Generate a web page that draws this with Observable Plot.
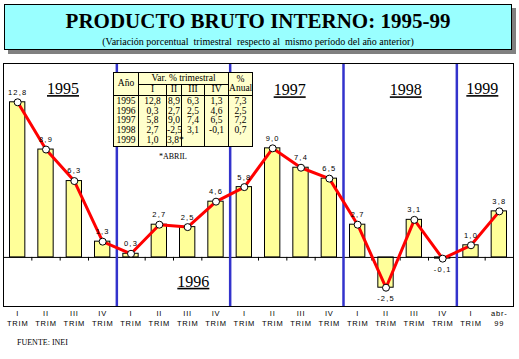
<!DOCTYPE html>
<html><head><meta charset="utf-8">
<script src="https://cdn.jsdelivr.net/npm/d3@7"></script>
<script src="https://cdn.jsdelivr.net/npm/@observablehq/plot@0.6"></script>
<style>
body{margin:0;background:#fff;}
#wrap{position:relative;width:519px;height:359px;overflow:hidden;font-family:"Liberation Serif","Times New Roman",serif;color:#000;}
#title{position:absolute;left:4px;top:4px;width:506px;height:44px;background:#99ffff;border:1px solid #000;box-shadow:4px 4px 0 #808080;text-align:center;}
#title .t{position:absolute;left:0;top:6px;width:100%;font-size:21px;line-height:21px;font-weight:bold;font-family:"Liberation Serif",serif;}
#title .s{position:absolute;left:0;top:31px;width:100%;font-size:10px;line-height:12px;white-space:pre;font-family:"Liberation Serif",serif;}
#chart{position:absolute;left:0;top:58px;}
#tbl{position:absolute;left:113px;top:72px;border-collapse:collapse;background:#ffffcc;font-size:9.5px;line-height:9.5px;table-layout:fixed;width:139px;}
#tbl th,#tbl td{border-left:1px solid #000;border-right:1px solid #000;padding:0;text-align:center;font-weight:normal;}
#tbl thead th{border:1px solid #000;}
#tbl thead tr:first-child th{height:11px;}
#tbl thead tr:nth-child(2) th{height:10px;}
#tbl tbody td{height:9.7px;}
#tbl tbody tr:first-child td{padding-top:1px;}
#tbl tbody tr:last-child td{border-bottom:1px solid #000;padding-bottom:1px;}
#abril{position:absolute;left:150px;top:152px;width:46px;text-align:center;font-size:8px;}
#fuente{position:absolute;left:17px;top:338px;font-size:8px;}
</style></head>
<body>
<div id="wrap">
  <div id="title"><div class="t">PRODUCTO BRUTO INTERNO: 1995-99</div><div class="s">(Variación porcentual  trimestral  respecto al  mismo período del año anterior)</div></div>
  <div id="chart"></div>
  <table id="tbl">
    <colgroup><col style="width:25px"><col style="width:28px"><col style="width:15px"><col style="width:23px"><col style="width:24px"><col style="width:24px"></colgroup>
    <thead>
      <tr><th rowspan="2">Año</th><th colspan="4">Var. % trimestral</th><th rowspan="2">%<br>Anual</th></tr>
      <tr><th>I</th><th>II</th><th>III</th><th>IV</th></tr>
    </thead>
    <tbody id="tbody"></tbody>
  </table>
  <div id="abril">*ABRIL</div>
  <div id="fuente">FUENTE: INEI</div>
</div>
<script>
// ---- data ----
const years = ["1995", "1996", "1997", "1998", "1999"];
const quarterNames = ["I", "II", "III", "IV"];
const v1995 = [12.8, 8.9, 6.3, 1.3];
const v1996 = [0.3, 2.7, 2.5, 4.6];
const v1997 = [5.8, 9.0, 7.4, 6.5];
const v1998 = [2.7, -2.5, 3.1, -0.1];
const v1999 = [1.0, 3.8];
const annual = [7.3, 2.5, 7.2, 0.7];
const xTickLabels = ["I\nTRIM","II\nTRIM","III\nTRIM","IV\nTRIM",
                     "I\nTRIM","II\nTRIM","III\nTRIM","IV\nTRIM",
                     "I\nTRIM","II\nTRIM","III\nTRIM","IV\nTRIM",
                     "I\nTRIM","II\nTRIM","III\nTRIM","IV\nTRIM",
                     "I\nTRIM","abr-\n99"];
const yearLabelX = [1.6, 6.2, 9.6, 13.7, 16.4];
const yearLabelY = [13.9, -2.0, 13.8, 13.8, 13.9];

// ---- build ----
const series = [v1995, v1996, v1997, v1998, v1999];
const rows = [];
series.forEach((arr, yi) => arr.forEach((v, qi) => rows.push({i: rows.length, year: years[yi], q: quarterNames[qi], v})));
const boundaries = [];
let acc = 0;
series.slice(0, -1).forEach(arr => { acc += arr.length; boundaries.push(acc - 0.5); });
const tickPos = d3.range(rows.length - 1).map(i => i + 0.5);
const fmt = v => v.toFixed(1).replace(".", ",");
const yearLabels = years.map((y, k) => ({year: y, x: yearLabelX[k], y: yearLabelY[k]}));

// table
const tbody = document.getElementById("tbody");
years.forEach((y, k) => {
  const tr = document.createElement("tr");
  const cells = [y];
  for (let q = 0; q < 4; q++) {
    const v = series[k][q];
    cells.push(v === undefined ? "" : fmt(v) + (k === years.length - 1 && q === series[k].length - 1 ? "*" : ""));
  }
  cells.push(annual[k] === undefined ? "" : fmt(annual[k]));
  cells.forEach(c => { const td = document.createElement("td"); td.textContent = c; tr.appendChild(td); });
  tbody.appendChild(tr);
});

const sans = "Arial, 'Liberation Sans', sans-serif";
const chart = Plot.plot({
  width: 519, height: 282,
  marginTop: 5, marginBottom: 34, marginLeft: 3, marginRight: 6,
  x: {domain: [-0.5, rows.length - 0.5]},
  y: {domain: [-4.05, 16], axis: null},
  style: {background: "transparent", overflow: "visible"},
  marks: [
    Plot.rectY(rows, {x1: d => d.i - 0.5, x2: d => d.i + 0.5, y1: 0, y2: "v", fill: "#ffff99", stroke: "#000", strokeWidth: 1, insetLeft: 6.5, insetRight: 6.5}),
    Plot.ruleY([0], {stroke: "#000", strokeWidth: 1}),
    Plot.ruleX(tickPos, {y1: 0, y2: -0.3, stroke: "#000"}),
    Plot.ruleX(boundaries, {stroke: "#3333cc", strokeWidth: 2.5}),
    Plot.frame({stroke: "#000", strokeWidth: 1}),
    Plot.line(rows, {x: "i", y: "v", stroke: "#ff0000", strokeWidth: 3}),
    Plot.dot(rows, {x: "i", y: "v", r: 3.5, fill: "#fff", stroke: "#000", strokeWidth: 1}),
    Plot.text(rows.filter(d => d.v >= 0), {x: "i", y: "v", text: d => fmt(d.v), dy: -10, fontSize: 7.5, fontFamily: sans, fill: "#000"}),
    Plot.text(rows.filter(d => d.v < 0), {x: "i", y: "v", text: d => fmt(d.v), dy: 11, fontSize: 7.5, fontFamily: sans, fill: "#000"}),
    Plot.text(yearLabels, {x: "x", y: "y", text: "year", fontSize: 16, fontFamily: "'Liberation Serif', serif", fill: "#000"}),
    Plot.axisX({ticks: d3.range(rows.length), tickFormat: i => xTickLabels[i], tickSize: 0, tickPadding: 2, fontSize: 7.5, fontFamily: sans, lineHeight: 1.35, fill: "#000"})
  ]
});
document.getElementById("chart").appendChild(chart);
const tg = chart.querySelectorAll('g[aria-label="text"]');
if (tg[0]) tg[0].style.letterSpacing = "1.2px";
if (tg[1]) tg[1].style.letterSpacing = "1.2px";
if (tg[2]) tg[2].style.textDecoration = "underline";
const ax = chart.querySelector('g[aria-label="x-axis tick label"]');
if (ax) ax.style.letterSpacing = "0.8px";
</script>
</body></html>
